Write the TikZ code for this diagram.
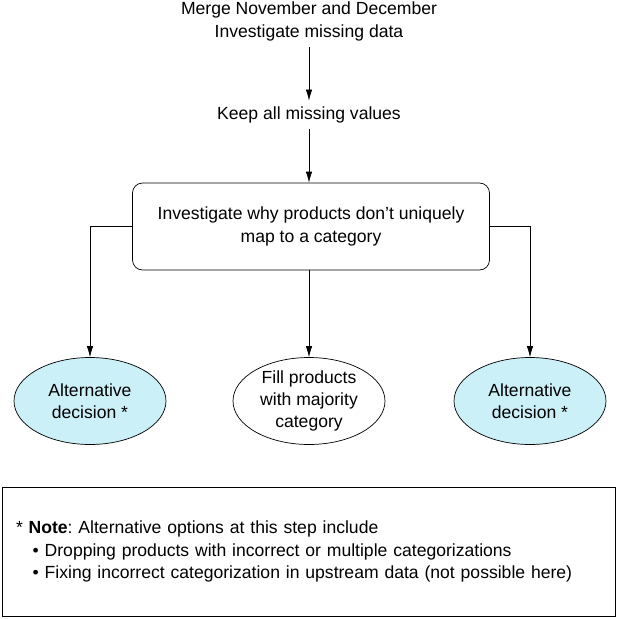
\documentclass[tikz,border=0pt]{standalone}
\usepackage{fontspec}
\setmainfont{Liberation Sans}
\usetikzlibrary{arrows.meta,shapes.geometric}
\definecolor{altfill}{RGB}{204,240,248}
\frenchspacing
\tikzset{
  stepbox/.style={draw, rounded corners=0.2cm, minimum width=7.14cm, minimum height=1.74cm, align=center, inner sep=0pt},
  choice/.style={draw, ellipse, minimum width=3.04cm, minimum height=1.74cm, align=center, inner sep=0pt},
  altchoice/.style={choice, fill=altfill},
  notebox/.style={draw, minimum width=12.26cm, minimum height=2.58cm, text width=11.7cm, align=left, inner sep=0pt}
}
\begin{document}
\begin{tikzpicture}[>={Latex[length=2.2mm,width=1.3mm]}, font=\linespread{1.05}\selectfont]
\useasboundingbox (0,0) rectangle (12.34,-12.38);
\node[align=center] (merge) at (6.18,-0.43) {Merge November and December\\Investigate missing data};
\node (keep) at (6.18,-2.3) {Keep all missing values};
\draw[->] (merge) -- (keep);

\node[stepbox] (why) at (6.22,-4.53) {Investigate why products don't uniquely\\map to a category};
\draw[->] (keep) -- (keep |- why.north);

\node[altchoice] (altl) at (1.8,-8.02) {Alternative\\decision *};
\node[choice] (fill) at (6.18,-8.02) {Fill products\\with majority\\category};
\node[altchoice] (altr) at (10.6,-8.02) {Alternative\\decision *};
\draw[->] (why.west) -| (altl.north);
\draw[->] (fill.north |- why.south) -- (fill.north);
\draw[->] (why.east) -| (altr.north);

%note below
\node[notebox] (note) at (6.17,-11.03) {* \textbf{Note}: Alternative options at this step include\\
\hspace*{9.5pt}• Dropping products with incorrect or multiple categorizations\\
\hspace*{9.5pt}• Fixing incorrect categorization in upstream data (not possible here)};
\end{tikzpicture}
\end{document}
